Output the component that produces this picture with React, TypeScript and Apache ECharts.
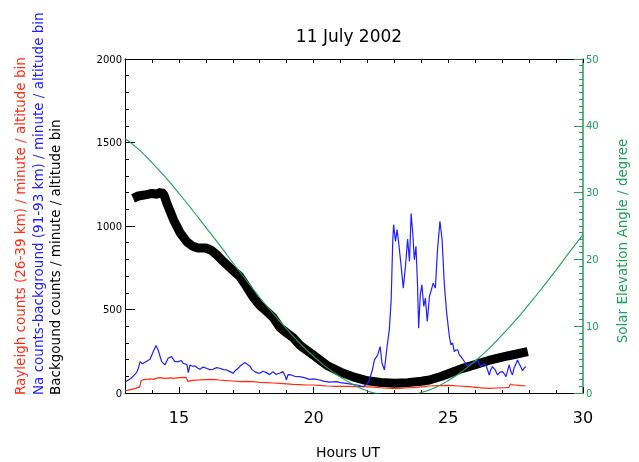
import React, { useEffect, useRef } from "react";
import * as echarts from "echarts";

// Background counts (black, thick)
const bgHours = [13.3, 13.5, 13.8, 14.0, 14.2, 14.35, 14.45, 14.55, 14.8, 15.05, 15.3, 15.5, 15.7, 16.0, 16.2, 16.4, 16.6, 16.8, 17.0, 17.26, 17.5, 17.75, 18.0, 18.25, 18.5, 18.75, 19.0, 19.25, 19.5, 19.75, 20.0, 20.25, 20.5, 20.75, 21.0, 21.5, 22.0, 22.5, 23.0, 23.5, 24.0, 24.3, 24.75, 25.0, 25.5, 26.0, 26.5, 27.0, 27.5, 27.95];
const bgCounts = [1165, 1180, 1188, 1195, 1190, 1205, 1185, 1138, 1038, 958, 905, 880, 868, 868, 855, 828, 795, 765, 735, 698, 640, 576, 525, 490, 452, 392, 360, 330, 285, 255, 226, 195, 165, 145, 125, 95, 73, 63, 58, 62, 70, 78, 100, 115, 146, 170, 195, 215, 232, 248];

// Na counts minus background (blue)
const naHours = [13.0, 13.2, 13.43, 13.5, 13.56, 13.65, 13.74, 13.85, 13.93, 14.05, 14.15, 14.23, 14.3, 14.36, 14.48, 14.6, 14.73, 14.8, 14.85, 14.98, 15.08, 15.16, 15.3, 15.35, 15.41, 15.5, 15.59, 15.7, 15.78, 15.9, 16.02, 16.15, 16.27, 16.4, 16.52, 16.65, 16.77, 16.9, 17.01, 17.1, 17.2, 17.3, 17.44, 17.55, 17.63, 17.72, 17.81, 17.9, 18.0, 18.12, 18.25, 18.37, 18.49, 18.6, 18.74, 18.86, 18.95, 18.99, 19.05, 19.17, 19.3, 19.48, 19.65, 19.85, 20.0, 20.22, 20.4, 20.59, 20.84, 21.0, 21.21, 21.5, 21.7, 21.83, 22.0, 22.07, 22.17, 22.26, 22.38, 22.47, 22.54, 22.63, 22.72, 22.81, 22.88, 22.94, 22.97, 23.04, 23.1, 23.16, 23.25, 23.33, 23.41, 23.49, 23.56, 23.62, 23.68, 23.74, 23.8, 23.86, 23.9, 23.96, 24.02, 24.09, 24.15, 24.22, 24.3, 24.37, 24.44, 24.52, 24.6, 24.69, 24.77, 24.85, 24.94, 25.04, 25.1, 25.16, 25.22, 25.28, 25.35, 25.41, 25.47, 25.59, 25.72, 25.8, 25.9, 26.0, 26.09, 26.15, 26.21, 26.3, 26.4, 26.52, 26.58, 26.64, 26.75, 26.83, 26.92, 27.01, 27.08, 27.14, 27.26, 27.32, 27.38, 27.44, 27.57, 27.63, 27.69, 27.75, 27.82, 27.88];
const naCounts = [65, 85, 122, 150, 188, 175, 184, 195, 202, 248, 284, 258, 220, 188, 168, 208, 218, 200, 188, 188, 195, 178, 170, 122, 168, 160, 162, 150, 142, 155, 148, 140, 142, 152, 148, 140, 138, 128, 118, 135, 148, 165, 182, 170, 162, 140, 128, 122, 118, 130, 122, 110, 128, 112, 118, 128, 100, 78, 110, 108, 100, 98, 92, 82, 85, 78, 70, 65, 68, 62, 58, 50, 45, 38, 55, 78, 130, 198, 228, 278, 178, 138, 268, 378, 558, 918, 1008, 908, 978, 898, 758, 628, 758, 922, 788, 1074, 958, 798, 878, 638, 388, 588, 648, 518, 568, 428, 578, 618, 658, 628, 858, 1028, 918, 658, 478, 338, 288, 300, 248, 258, 258, 228, 218, 190, 160, 175, 178, 185, 198, 175, 158, 175, 168, 108, 140, 158, 135, 108, 125, 128, 115, 98, 168, 130, 108, 148, 198, 175, 158, 134, 150, 158];

// Rayleigh counts (red)
const rayHours = [13.0, 13.2, 13.4, 13.55, 13.6, 13.7, 13.9, 14.05, 14.2, 14.3, 14.5, 14.7, 14.8, 15.0, 15.2, 15.28, 15.33, 15.5, 15.78, 16.0, 16.27, 16.5, 16.77, 17.0, 17.26, 17.5, 17.75, 18.0, 18.25, 18.5, 18.74, 19.0, 19.23, 19.5, 19.73, 20.0, 20.22, 20.5, 20.84, 21.2, 21.5, 21.83, 22.2, 22.6, 23.06, 23.4, 23.8, 24.1, 24.3, 24.6, 25.04, 25.4, 25.77, 26.1, 26.51, 26.8, 27.13, 27.25, 27.31, 27.4, 27.5, 27.7, 27.87];
const rayCounts = [12, 20, 28, 38, 75, 80, 84, 82, 90, 92, 88, 90, 88, 92, 94, 92, 70, 76, 78, 80, 82, 78, 74, 72, 68, 70, 68, 64, 62, 60, 58, 55, 52, 50, 48, 48, 46, 42, 40, 40, 38, 38, 35, 30, 26, 30, 34, 38, 42, 44, 46, 42, 38, 32, 28, 30, 32, 34, 54, 48, 48, 44, 42];

// Solar elevation angle in degrees (green, right axis)
const sunHours = [13.0, 13.5, 14.0, 14.5, 15.0, 15.5, 16.0, 16.5, 17.0, 17.5, 18.0, 18.5, 19.0, 19.5, 20.0, 20.5, 21.0, 21.5, 22.0, 22.5, 23.0, 23.5, 24.0, 24.5, 25.0, 25.5, 26.0, 26.5, 27.0, 27.5, 28.0, 28.5, 29.0, 29.5, 30.0];
const sunElevation = [38.1, 36.5, 34.5, 32.3, 29.9, 27.4, 24.8, 22.2, 19.5, 16.9, 14.3, 11.9, 9.6, 7.4, 5.5, 3.8, 2.4, 1.2, 0.3, -0.2, -0.45, -0.35, 0.07, 0.8, 1.86, 3.2, 4.8, 6.6, 8.7, 10.9, 13.3, 15.8, 18.4, 21.1, 23.7];

const leftTicks = { min: 0, max: 2000, step: 500 };
const rightTicks = { min: 0, max: 50, step: 10 };

const FONT = "DejaVu Sans";
const RED = "#ff2a10";
const BLUE = "#2020ff";
const GREEN = "#1ca05a";

const zip = (xs: number[], ys: number[]) => xs.map((x, i) => [x, ys[i]]);

const tick = (length: number, color: string) => ({
  show: true,
  inside: true,
  length,
  lineStyle: { color, width: 1 },
});

export default function App() {
  const ref = useRef<HTMLDivElement>(null);

  useEffect(() => {
    if (!ref.current) return;
    const chart = echarts.init(ref.current, undefined, { renderer: "svg" });

    const vText = (text: string, x: number, y: number, color: string, align: string) => ({
      type: "text",
      x,
      y,
      rotation: Math.PI / 2,
      style: {
        text,
        fill: color,
        fontSize: 13.5,
        fontFamily: FONT,
        align,
        textAlign: align,
        verticalAlign: "middle",
        textVerticalAlign: "middle",
      },
    });

    chart.setOption({
      animation: false,
      textStyle: { fontFamily: FONT },
      grid: { left: 125, right: 56, top: 59, bottom: 69 },
      xAxis: [
        {
          type: "value",
          position: "bottom",
          min: 13,
          max: 30,
          interval: 1,
          axisLine: { show: true, onZero: false, lineStyle: { color: "#000" } },
          axisTick: tick(3, "#000"),
          axisLabel: {
            formatter: (v: number) => (v % 5 === 0 ? String(v) : ""),
            fontSize: 16,
            color: "#000",
            margin: 16,
          },
          splitLine: { show: false },
        },
        {
          type: "value",
          position: "bottom",
          min: 13,
          max: 30,
          splitNumber: 3,
          minInterval: 5,
          maxInterval: 5,
          axisLine: { show: false, onZero: false },
          axisTick: tick(6, "#000"),
          axisLabel: { show: false },
          splitLine: { show: false },
        },
        {
          type: "value",
          position: "top",
          min: 13,
          max: 30,
          interval: 1,
          axisLine: { show: true, onZero: false, lineStyle: { color: "#000" } },
          axisTick: tick(4, "#000"),
          axisLabel: { show: false },
          splitLine: { show: false },
        },
      ],
      yAxis: [
        {
          type: "value",
          position: "left",
          min: leftTicks.min,
          max: leftTicks.max,
          interval: leftTicks.step,
          axisLine: { show: true, onZero: false, lineStyle: { color: "#000" } },
          axisTick: tick(10, "#000"),
          minorTick: { show: true, splitNumber: 5, length: 4, lineStyle: { color: "#000" } },
          axisLabel: { fontSize: 10, color: "#000", margin: 3, formatter: (v: number) => String(v) },
          splitLine: { show: false },
        },
        {
          type: "value",
          position: "right",
          min: rightTicks.min,
          max: rightTicks.max,
          interval: rightTicks.step,
          axisLine: { show: true, onZero: false, lineStyle: { color: GREEN, width: 1.5 } },
          axisTick: tick(9, GREEN),
          minorTick: { show: true, splitNumber: 10, length: 4, lineStyle: { color: GREEN } },
          axisLabel: { fontSize: 10, color: GREEN, margin: 3, formatter: (v: number) => String(v) },
          splitLine: { show: false },
        },
      ],
      series: [
        {
          name: "Background",
          type: "line",
          xAxisIndex: 0,
          yAxisIndex: 0,
          data: zip(bgHours, bgCounts),
          showSymbol: false,
          lineStyle: { color: "#000", width: 9 },
        },
        {
          name: "Rayleigh",
          type: "line",
          xAxisIndex: 0,
          yAxisIndex: 0,
          data: zip(rayHours, rayCounts),
          showSymbol: false,
          lineStyle: { color: RED, width: 1.2 },
        },
        {
          name: "Na",
          type: "line",
          xAxisIndex: 0,
          yAxisIndex: 0,
          data: zip(naHours, naCounts),
          showSymbol: false,
          lineStyle: { color: BLUE, width: 1.2 },
        },
        {
          name: "Solar elevation",
          type: "line",
          xAxisIndex: 0,
          yAxisIndex: 1,
          data: zip(sunHours, sunElevation),
          showSymbol: false,
          smooth: true,
          lineStyle: { color: GREEN, width: 1.1 },
        },
      ],
      graphic: [
        {
          type: "text",
          x: 349,
          y: 36,
          style: {
            text: "11 July 2002",
            fill: "#000",
            fontSize: 17,
            fontFamily: FONT,
            align: "center",
            textAlign: "center",
            verticalAlign: "middle",
            textVerticalAlign: "middle",
          },
        },
        {
          type: "text",
          x: 348,
          y: 452,
          style: {
            text: "Hours UT",
            fill: "#000",
            fontSize: 14,
            fontFamily: FONT,
            align: "center",
            textAlign: "center",
            verticalAlign: "middle",
            textVerticalAlign: "middle",
          },
        },
        vText("Rayleigh counts (26-39 km) / minute / altitude bin", 20, 395, RED, "left"),
        vText("Na counts-background (91-93 km) / minute / altitude bin", 38, 395, BLUE, "left"),
        vText("Backgound counts / minute / altitude bin", 55, 395, "#000", "left"),
        vText("Solar Elevation Angle / degree", 622, 241, GREEN, "center"),
      ],
    });

    return () => chart.dispose();
  }, []);

  return <div ref={ref} style={{ position: "fixed", left: 0, top: 0, width: 639, height: 462 }} />;
}
